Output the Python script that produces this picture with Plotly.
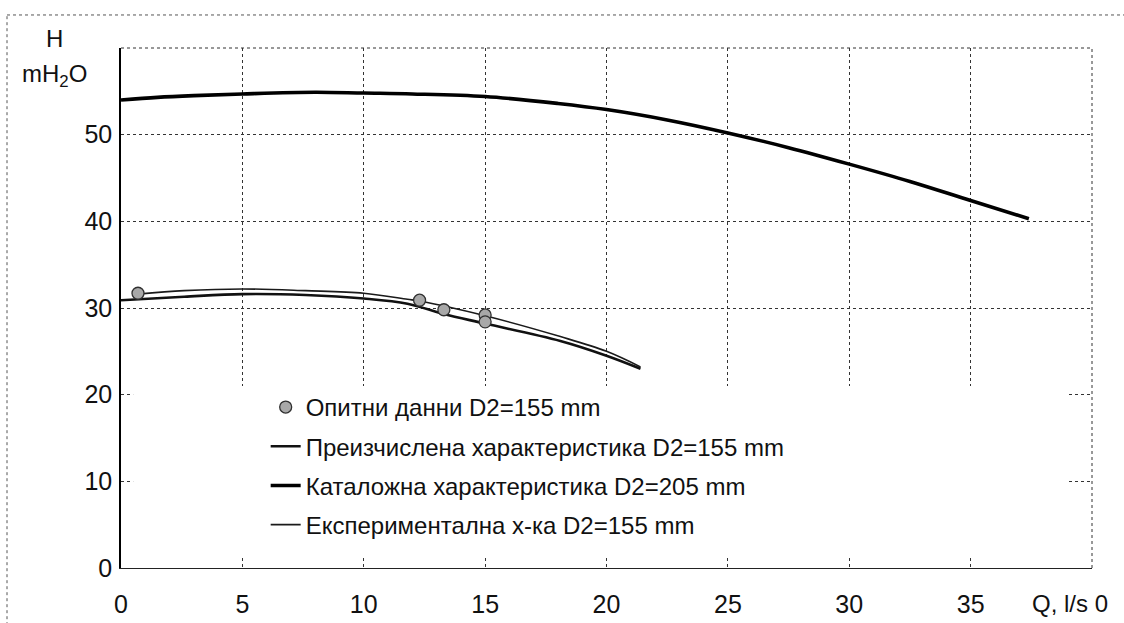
import plotly.graph_objects as go

# Pump head curves H(Q)
# Catalogue curve, impeller D2 = 205 mm
q_catalog = [0, 1.5, 3, 5, 8, 10, 12, 15, 18, 20, 22.5, 25, 27.5, 30, 32.5, 35, 37.4]
h_catalog = [54.0, 54.3, 54.5, 54.7, 54.9, 54.8, 54.7, 54.4, 53.6, 52.9, 51.7, 50.2, 48.5, 46.6, 44.6, 42.4, 40.3]

# Recalculated curve, D2 = 155 mm
q_recalc = [0, 2.6, 5, 7.6, 10, 11.8, 13.3, 15, 18.1, 20, 21.4]
h_recalc = [30.9, 31.3, 31.6, 31.5, 31.1, 30.5, 29.3, 28.2, 26.2, 24.5, 23.0]

# Experimental curve, D2 = 155 mm
q_exper = [0.7, 2.6, 5, 7.6, 10, 11.8, 12.3, 15, 18.1, 20, 21.4]
h_exper = [31.6, 32.0, 32.2, 32.0, 31.7, 31.0, 30.8, 29.1, 26.7, 25.0, 23.2]

# Measured points, D2 = 155 mm
q_points = [0.7, 12.3, 13.3, 15.0, 15.0]
h_points = [31.7, 30.9, 29.8, 29.2, 28.4]

x_ticks = [0, 5, 10, 15, 20, 25, 30, 35]
x_tick_labels = ["0", "5", "10", "15", "20", "25", "30", "35"]
y_ticks = [0, 10, 20, 30, 40, 50]
y_tick_labels = ["0", "10", "20", "30", "40", "50"]

FONT = "Arial, Liberation Sans, sans-serif"

fig = go.Figure()

fig.add_trace(go.Scatter(
    x=q_recalc, y=h_recalc, mode="lines",
    name="Преизчислена характеристика D2=155 mm", legendgroup="b", legendrank=2,
    line=dict(color="#111111", width=2.6, shape="spline", smoothing=1.0),
))
fig.add_trace(go.Scatter(
    x=q_catalog, y=h_catalog, mode="lines",
    name="Каталожна характеристика D2=205 mm", legendgroup="c", legendrank=3,
    line=dict(color="#000000", width=3.6, shape="spline", smoothing=1.0),
))
fig.add_trace(go.Scatter(
    x=q_exper, y=h_exper, mode="lines",
    name="Експериментална х-ка D2=155 mm", legendgroup="d", legendrank=4,
    line=dict(color="#1a1a1a", width=1.6, shape="spline", smoothing=1.0),
))
# measured points drawn last so they sit on top of the curves
fig.add_trace(go.Scatter(
    x=q_points, y=h_points, mode="markers",
    name="Опитни данни D2=155 mm", legendgroup="a", legendrank=1,
    marker=dict(symbol="circle", size=12, color="#a8a8a8",
                line=dict(color="#303030", width=1.3)),
))

grid = dict(showgrid=True, gridcolor="#333333", griddash="dot", gridwidth=1)

fig.update_xaxes(
    range=[0, 40], tickvals=x_ticks, ticktext=x_tick_labels,
    showline=True, linecolor="#222222", linewidth=1,
    ticks="", ticklabelstandoff=14, zeroline=False, automargin=False,
    tickfont=dict(family=FONT, size=25, color="#111111"), **grid,
)
fig.update_yaxes(
    range=[0, 60], tickvals=y_ticks, ticktext=y_tick_labels,
    showline=True, linecolor="#000000", linewidth=1.5,
    ticks="", ticklabelstandoff=2, zeroline=False, automargin=False,
    tickfont=dict(family=FONT, size=25, color="#111111"), **grid,
)

shapes = [
    # white area behind the legend, covering the grid
    dict(type="rect", xref="x", yref="y", x0=0.5, x1=38.95, y0=1.2, y1=21.0,
         fillcolor="white", line=dict(width=0), layer="between"),
    # dotted top and right edges of the plot frame
    dict(type="line", xref="paper", yref="paper", x0=0, x1=1, y0=1, y1=1,
         line=dict(color="#333333", width=1, dash="dot")),
    dict(type="line", xref="paper", yref="paper", x0=1, x1=1, y0=0, y1=1,
         line=dict(color="#333333", width=1, dash="dot")),
    # dotted outer chart border
    dict(type="line", xref="paper", yref="paper", x0=-0.1174, x1=1.04, y0=1.0635, y1=1.0635,
         line=dict(color="#555555", width=1, dash="dot")),
    dict(type="line", xref="paper", yref="paper", x0=-0.1174, x1=-0.1174, y0=-0.11, y1=1.0635,
         line=dict(color="#555555", width=1, dash="dot")),
]

annotations = [
    dict(text="H", xref="paper", yref="paper", x=-0.068, y=1.019,
         xanchor="center", yanchor="middle",
         showarrow=False, font=dict(family=FONT, size=24, color="#111111")),
    dict(text="mH<sub>2</sub>O", xref="paper", yref="paper", x=-0.068, y=0.948,
         xanchor="center", yanchor="middle",
         showarrow=False, font=dict(family=FONT, size=24, color="#111111")),
    dict(text="Q, l/s 0", xref="paper", yref="paper", x=1.0185, y=-0.069,
         xanchor="right", yanchor="middle",
         showarrow=False, font=dict(family=FONT, size=24, color="#111111")),
]

fig.update_layout(
    width=1124, height=623,
    margin=dict(l=121, r=32, t=48, b=55),
    paper_bgcolor="white", plot_bgcolor="white",
    showlegend=True,
    legend=dict(
        x=0.149, y=0.352, xanchor="left", yanchor="top",
        bgcolor="rgba(0,0,0,0)", borderwidth=0,
        traceorder="grouped", tracegroupgap=5,
        font=dict(family=FONT, size=24, color="#111111"),
        itemwidth=30,
    ),
    shapes=shapes, annotations=annotations,
)

fig.write_html("out.html", include_plotlyjs=True, config={"displayModeBar": False})
